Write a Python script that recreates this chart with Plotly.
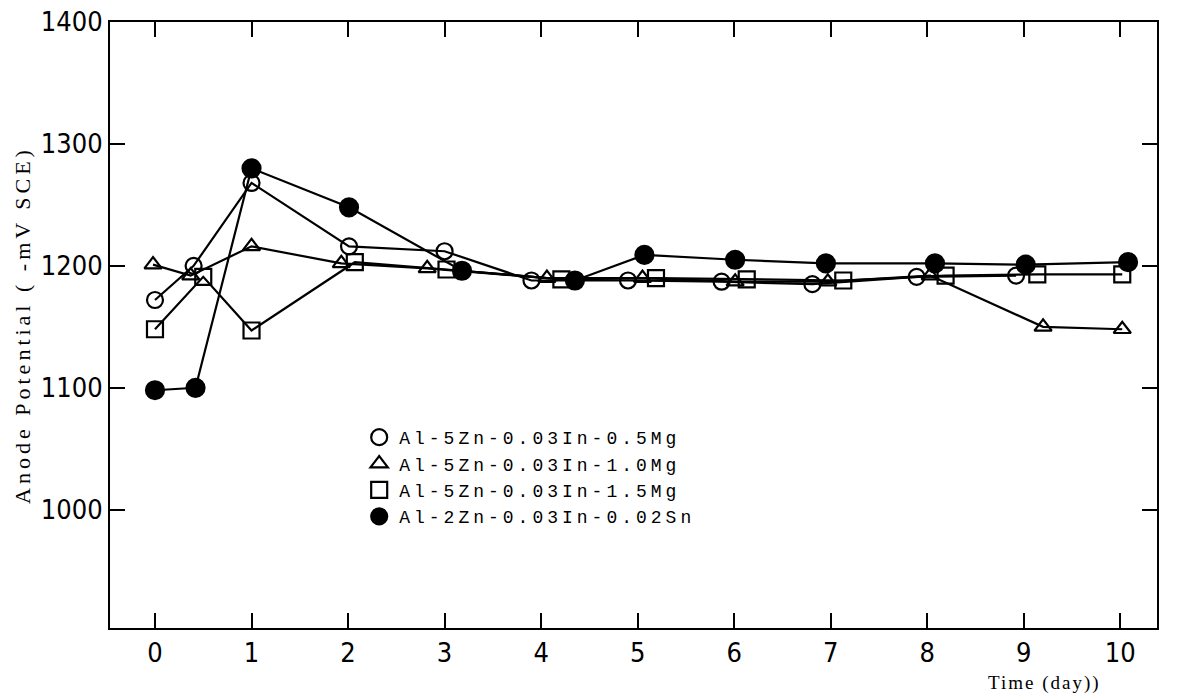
import plotly.graph_objects as go

# ---- data ----
names = ["Al-5Zn-0.03In-0.5Mg", "Al-5Zn-0.03In-1.0Mg",
         "Al-5Zn-0.03In-1.5Mg", "Al-2Zn-0.03In-0.02Sn"]

x_a = [0.0, 0.40, 1.0, 2.01, 3.0, 3.90, 4.90, 5.87, 6.81, 7.89, 8.92]
y_a = [1172, 1200, 1268, 1216, 1212, 1188, 1188, 1187, 1185, 1191, 1192]

x_b = [-0.02, 0.37, 1.0, 1.93, 2.82, 4.06, 5.05, 6.01, 6.97, 8.03, 9.20, 10.02]
y_b = [1201, 1192, 1216, 1202, 1198, 1190, 1190, 1187, 1187, 1192, 1150, 1148]

x_c = [0.0, 0.50, 1.0, 2.07, 3.02, 4.21, 5.19, 6.13, 7.13, 8.19, 9.14, 10.02]
y_c = [1148, 1191, 1147, 1203, 1197, 1189, 1190, 1189, 1188, 1192, 1193, 1193]

x_d = [0.0, 0.42, 1.0, 2.01, 3.18, 4.35, 5.07, 6.01, 6.95, 8.08, 9.02, 10.08]
y_d = [1098, 1100, 1280, 1248, 1196, 1188, 1209, 1205, 1202, 1202, 1201, 1203]

x_ticks = [0, 1, 2, 3, 4, 5, 6, 7, 8, 9, 10]
y_ticks = [1000, 1100, 1200, 1300, 1400]

series = [
    (x_a, y_a, "circle-open", 16),
    (x_b, y_b, "triangle-up-open", 15),
    (x_c, y_c, "square-open", 16),
    (x_d, y_d, "circle", 18),
]

TICK_FONT = "DejaVu Sans Condensed, Liberation Sans Narrow, Arial Narrow, sans-serif"
SERIF = "Liberation Serif, Times New Roman, serif"
MONO = "Liberation Mono, Courier New, monospace"


def spaced(t, px):
    return '<span style="letter-spacing:%spx">%s</span>' % (px, t)


fig = go.Figure()

# connecting lines (no legend)
for (xs, ys, sym, sz) in series:
    fig.add_trace(go.Scatter(x=xs, y=ys, mode="lines",
                             line=dict(color="black", width=2.2),
                             showlegend=False, hoverinfo="skip"))

# markers (with legend)
for name, (xs, ys, sym, sz) in zip(names, series):
    fig.add_trace(go.Scatter(
        x=xs, y=ys, mode="markers", name=spaced(name, 4),
        marker=dict(symbol=sym, size=sz, color="black",
                    line=dict(color="black", width=2.2)),
    ))

fig.update_layout(
    width=1178, height=694,
    margin=dict(l=110, r=21, t=22, b=66),
    paper_bgcolor="white", plot_bgcolor="white",
    showlegend=True,
    legend=dict(x=0.238, y=0.345, xanchor="left", yanchor="top",
                bgcolor="rgba(0,0,0,0)",
                font=dict(family=MONO, size=18, color="black"),
                tracegroupgap=0, itemwidth=30),
    font=dict(family=TICK_FONT, color="black"),
)

fig.update_xaxes(
    range=[-0.466, 10.38], tickvals=x_ticks, automargin=False,
    ticks="inside", ticklen=15, tickwidth=2, tickcolor="black",
    mirror="ticks", showline=True, linecolor="black", linewidth=2,
    showgrid=False, zeroline=False,
    tickfont=dict(size=27, family=TICK_FONT),
)
fig.update_yaxes(
    range=[903, 1400], tickvals=y_ticks, automargin=False,
    ticks="inside", ticklen=15, tickwidth=2, tickcolor="black",
    mirror="ticks", showline=True, linecolor="black", linewidth=2,
    showgrid=False, zeroline=False,
    tickfont=dict(size=27, family=TICK_FONT),
    title=dict(text=spaced("Anode Potential ( -mV SCE)", 4),
               font=dict(family=SERIF, size=22),
               standoff=4),
)

fig.add_annotation(text=spaced("Time (day))", 2), xref="paper", yref="paper",
                   x=0.893, y=-0.09, xanchor="center", yanchor="middle",
                   showarrow=False,
                   font=dict(family=SERIF, size=19, color="black"))

fig.write_html("out.html")
